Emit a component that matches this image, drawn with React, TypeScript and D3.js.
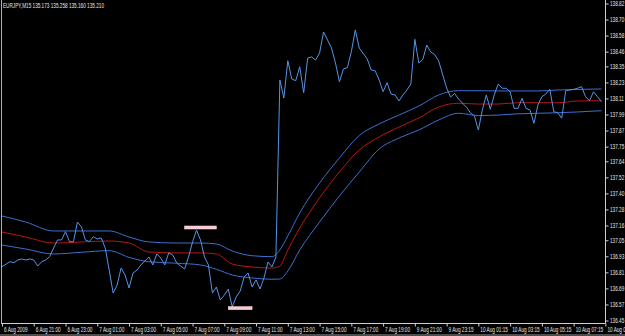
import React from "react";
import * as d3 from "d3";

const title = "EURJPY,M15  135.173 135.258 135.160 135.210";

// close prices (bar index, price)
const closeBar = [
  0, 2, 3, 4, 5, 6, 7, 8, 9, 10, 11, 12, 13, 14, 15, 16, 17, 18, 19, 20,
  21, 22, 23, 24, 25, 26, 27, 28, 29, 30, 31, 32, 33, 34, 35, 37, 38, 39, 40, 41,
  42, 43, 44, 45, 46, 47, 48, 49, 50, 51, 52, 53, 54, 55, 56, 57, 58, 59, 60, 61,
  62, 63, 64, 65, 66, 67, 68, 69,
  70, 71, 72, 73, 74, 75, 76, 77, 78, 79, 80, 81, 83, 84, 85, 86, 87, 88, 89, 90,
  92, 93, 94, 95, 96, 97, 98, 99, 100, 101, 102, 103, 104, 105, 106, 107, 108, 109, 110,
  112, 113, 114, 115, 117, 118, 119, 120, 121, 122, 123, 124, 125, 126, 127, 128, 129,
  130, 131, 132, 133, 134, 135, 136, 137, 138, 139, 140, 141, 142, 143, 144, 145, 146,
  147, 148, 149, 150, 151,
];
const close = [
  136.856, 136.893, 136.886, 136.906, 136.914, 136.906, 136.914, 136.906, 136.861, 136.893,
  136.906, 136.931, 136.996, 137.056, 137.056, 137.118, 137.043, 137.043, 137.19, 137.155,
  137.056, 137.043, 137.08, 137.063, 137.071, 136.996, 136.831, 136.659, 136.719, 136.846,
  136.794, 136.697, 136.809, 136.831, 136.869, 136.929, 136.869, 136.951, 136.921, 136.869,
  136.959, 136.944, 136.884, 136.861, 136.839, 136.929, 137.041, 137.13, 137.056, 136.929,
  136.869, 136.659, 136.704, 136.607, 136.644, 136.689, 136.555, 136.63, 136.674, 136.779,
  136.809, 136.704, 136.757, 136.689, 136.772, 136.891, 136.854, 136.929,
  138.252, 138.117, 138.396, 138.259, 138.247, 138.351, 138.157, 138.416, 138.424, 138.401,
  138.454, 138.611, 138.491, 138.379, 138.239, 138.334, 138.344, 138.463, 138.626, 138.491,
  138.409, 138.327, 138.321, 138.252, 138.164, 138.232, 138.147, 138.14, 138.095, 138.14,
  138.177, 138.222, 138.556, 138.379, 138.405, 138.513, 138.461, 138.442, 138.394,
  138.192, 138.125, 138.151, 138.11, 138.048, 138.007, 137.983, 137.878, 138.028, 138.14,
  138.033, 138.14, 138.222, 138.19, 138.19, 138.164, 138.04,
  138.04, 138.115, 138.04, 138.028, 137.928, 138.065, 138.127, 138.147, 138.182, 138.015,
  138.007, 137.966, 138.172, 138.177, 138.182, 138.19, 138.202,
  138.127, 138.097, 138.164, 138.127, 138.09,
];

// envelope / moving average samples
const bandBar = [0, 6, 13, 20, 27, 32, 37, 44, 50, 54, 58, 63, 68, 70, 72, 75, 80, 85, 90, 95, 100, 105, 110, 115, 120, 125, 130, 135, 140, 145, 151];
const upperBand = [
  137.235, 137.19, 137.123, 137.123, 137.123, 137.078, 137.041, 137.033, 137.033, 137.026,
  136.973, 136.938, 136.931, 136.981, 137.086, 137.258, 137.482, 137.669, 137.837, 137.923,
  137.99, 138.057, 138.14, 138.172, 138.172, 138.17, 138.17, 138.17, 138.177, 138.181, 138.185,
];
const middleLine = [
  137.115, 137.078, 137.033, 137.041, 137.048, 137.033, 136.966, 136.959, 136.959, 136.951,
  136.876, 136.854, 136.846, 136.861, 136.981, 137.145, 137.37, 137.564, 137.729, 137.826,
  137.9, 137.968, 138.05, 138.078, 138.072, 138.072, 138.082, 138.082, 138.082, 138.095, 138.097,
];
const lowerBand = [
  137.018, 136.988, 136.951, 136.964, 136.976, 136.926, 136.893, 136.882, 136.869, 136.837,
  136.794, 136.772, 136.762, 136.764, 136.824, 136.981, 137.19, 137.385, 137.564, 137.736,
  137.818, 137.878, 137.953, 138.003, 137.986, 137.99, 137.999, 138.003, 138.007, 138.013, 138.022,
];

// high / low markers
const markerFrom = [46, 57];
const markerTo = [54, 63];
const markerPrice = [137.149, 136.546];

const yTicks = [
  136.45, 136.57, 136.69, 136.81, 136.93, 137.05, 137.16, 137.28, 137.4, 137.52, 137.64,
  137.75, 137.87, 137.99, 138.11, 138.23, 138.35, 138.46, 138.58, 138.7, 138.82,
];
const xTickBars = [0, 8, 16, 24, 32, 40, 48, 56, 64, 72, 80, 88, 96, 104, 112, 120, 128, 136, 144, 152];
const xTickLabels = [
  "6 Aug 2009", "6 Aug 21:00", "6 Aug 23:00", "7 Aug 01:00", "7 Aug 03:00", "7 Aug 05:00",
  "7 Aug 07:00", "7 Aug 09:00", "7 Aug 11:00", "7 Aug 13:00", "7 Aug 15:00", "7 Aug 17:00",
  "7 Aug 19:00", "9 Aug 21:00", "9 Aug 23:15", "10 Aug 01:15", "10 Aug 03:15", "10 Aug 05:15",
  "10 Aug 07:15", "10 Aug 09:15",
];

const W = 625;
const H = 336;
const AXIS_X = 605.5;
const AXIS_Y = 323.5;
const FONT = "'Liberation Sans', Arial, sans-serif";
const FS = 6.5;
const SX = 0.72;

export default function App() {
  const x = d3.scaleLinear().domain([0, 152]).range([2, 605.4]);
  const y = d3.scaleLinear().domain([136.45, 138.82]).range([321, 4]);

  const priceLine = d3
    .line<number>()
    .x((_, i) => x(closeBar[i]))
    .y((d) => y(d))(close);

  const bandGen = (vals: number[]) =>
    d3
      .line<number>()
      .x((_, i) => x(bandBar[i]))
      .y((d) => y(d))
      .curve(d3.curveMonotoneX)(vals);

  const txt = (tx: number, ty: number, s: string, key?: string | number) => (
    <text
      key={key}
      transform={`translate(${tx},${ty}) scale(${SX},1)`}
      fontFamily={FONT}
      fontSize={FS}
      fill="#e6e6e6"
    >
      {s}
    </text>
  );

  return (
    <svg
      width={W}
      height={H}
      style={{ position: "absolute", left: 0, top: 0, background: "#000" }}
    >
      <rect x={0} y={0} width={W} height={H} fill="#000" />
      <defs>
        <clipPath id="plot">
          <rect x={2} y={0} width={AXIS_X - 2} height={AXIS_Y} />
        </clipPath>
      </defs>
      <g clipPath="url(#plot)">
        <path d={bandGen(upperBand) || ""} fill="none" stroke="#3b6fd2" strokeWidth={1} />
        <path d={bandGen(lowerBand) || ""} fill="none" stroke="#3b6fd2" strokeWidth={1} />
        <path d={bandGen(middleLine) || ""} fill="none" stroke="#b8161a" strokeWidth={1} />
        <path d={priceLine || ""} fill="none" stroke="#5494e6" strokeWidth={1} />
        {markerPrice.map((p, i) => (
          <rect
            key={i}
            x={x(markerFrom[i])}
            y={y(p) - 1.5}
            width={x(markerTo[i]) - x(markerFrom[i])}
            height={3}
            fill="#f7c9d2"
            stroke="#ffe6ea"
            strokeWidth={0.5}
          />
        ))}
      </g>

      {/* frame */}
      <line x1={1.5} y1={0} x2={1.5} y2={AXIS_Y} stroke="#b0b0b0" strokeWidth={1} />
      <line x1={0} y1={335} x2={W} y2={335} stroke="#9a9a9a" strokeWidth={1} />

      {/* axes */}
      <line x1={AXIS_X} y1={0} x2={AXIS_X} y2={AXIS_Y} stroke="#d0d0d0" strokeWidth={1} />
      <line x1={1} y1={AXIS_Y} x2={AXIS_X} y2={AXIS_Y} stroke="#d0d0d0" strokeWidth={1} />

      {yTicks.map((t, i) => (
        <g key={"y" + i}>
          <line x1={AXIS_X} x2={AXIS_X + 3} y1={y(t)} y2={y(t)} stroke="#d0d0d0" strokeWidth={1} />
          {txt(AXIS_X + 4.5, y(t) + 2.2, t.toFixed(2))}
        </g>
      ))}

      {xTickBars.map((b, i) => (
        <g key={"x" + i}>
          <line x1={x(b) + 0.5} x2={x(b) + 0.5} y1={AXIS_Y} y2={AXIS_Y + 3} stroke="#d0d0d0" strokeWidth={1} />
          {txt(x(b) + 2, 331.5, xTickLabels[i])}
        </g>
      ))}

      {txt(3, 7.5, title)}
    </svg>
  );
}
